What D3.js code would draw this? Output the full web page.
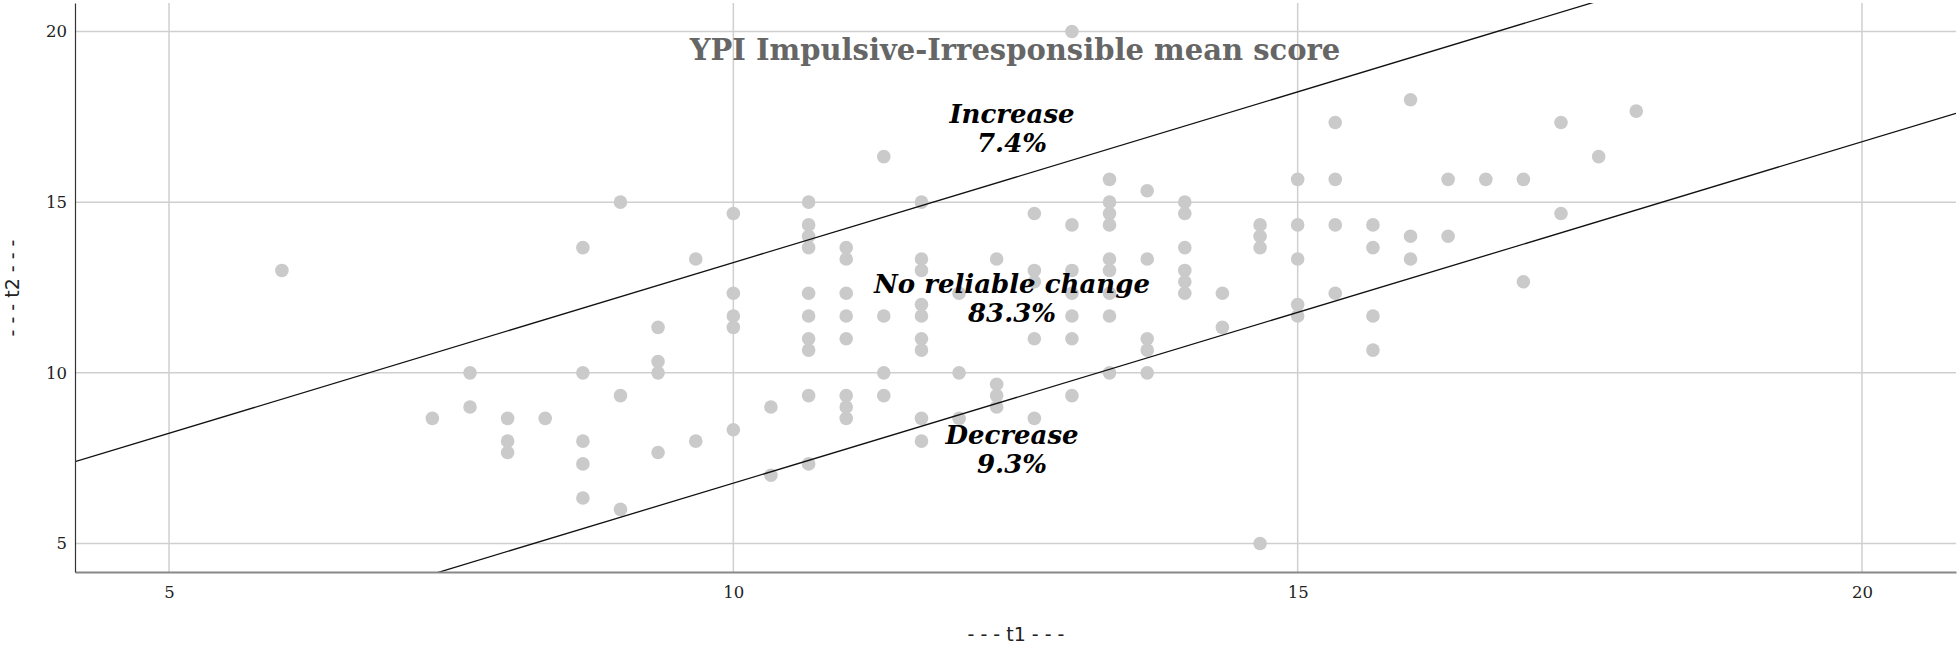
<!DOCTYPE html>
<html>
<head>
<meta charset="utf-8">
<script src="https://cdn.jsdelivr.net/npm/d3@7"></script>
<style>
  html, body { margin: 0; padding: 0; background: #fff; }
  svg { display: block; }
</style>
</head>
<body>
<svg id="chart" width="1960" height="648"></svg>
<script>
// ---- data ----
const title = "YPI Impulsive-Irresponsible mean score";
const xLabel = "- - - t1 - - -";
const yLabel = "- - - t2 - - -";
const xTicks = [5, 10, 15, 20];
const yTicks = [5, 10, 15, 20];
const rciOffset = 3.23;               // reliable change band: t2 = t1 ± offset
const regionNames = ["Increase", "No reliable change", "Decrease"];
const regionShares = ["7.4%", "83.3%", "9.3%"];

const t1 = [
  6, 7.333, 7.667, 7.667, 8, 8, 8, 8.333,
  8.667, 8.667, 8.667, 8.667, 8.667,
  9, 9, 9,
  9.333, 9.333, 9.333, 9.333,
  9.667, 9.667,
  10, 10, 10, 10, 10,
  10.333, 10.333,
  10.667, 10.667, 10.667, 10.667, 10.667, 10.667, 10.667, 10.667, 10.667, 10.667,
  11, 11, 11, 11, 11, 11, 11, 11,
  11.333, 11.333, 11.333, 11.333,
  11.667, 11.667, 11.667, 11.667, 11.667, 11.667, 11.667, 11.667, 11.667,
  12, 12, 12,
  12.333, 12.333, 12.333, 12.333,
  12.667, 12.667, 12.667, 12.667, 12.667,
  13, 13, 13, 13, 13, 13, 13,
  13.333, 13.333, 13.333, 13.333, 13.333, 13.333, 13.333, 13.333, 13.333,
  13.667, 13.667, 13.667, 13.667, 13.667,
  14, 14, 14, 14, 14, 14,
  14.333, 14.333,
  14.667, 14.667, 14.667, 14.667,
  15, 15, 15, 15, 15,
  15.333, 15.333, 15.333, 15.333,
  15.667, 15.667, 15.667, 15.667,
  16, 16, 16,
  16.333, 16.333,
  16.667,
  17, 17,
  17.333, 17.333,
  17.667,
  18
];
const t2 = [
  13, 8.667, 10, 9, 8.667, 8, 7.667, 8.667,
  13.667, 10, 8, 7.333, 6.333,
  15, 9.333, 6,
  11.333, 10.333, 10, 7.667,
  13.333, 8,
  14.667, 12.333, 11.667, 11.333, 8.333,
  9, 7,
  15, 14.333, 14, 13.667, 12.333, 11.667, 11, 10.667, 9.333, 7.333,
  13.667, 13.333, 12.333, 11.667, 11, 9.333, 9, 8.667,
  16.333, 11.667, 10, 9.333,
  15, 13.333, 13, 12, 11.667, 11, 10.667, 8.667, 8,
  12.333, 10, 8.667,
  13.333, 9.667, 9.333, 9,
  14.667, 13, 12.667, 11, 8.667,
  20, 14.333, 13, 12.333, 11.667, 11, 9.333,
  15.667, 15, 14.667, 14.333, 13.333, 13, 12.333, 11.667, 10,
  15.333, 13.333, 11, 10.667, 10,
  15, 14.667, 13.667, 13, 12.667, 12.333,
  12.333, 11.333,
  14.333, 14, 13.667, 5,
  15.667, 14.333, 13.333, 12, 11.667,
  17.333, 15.667, 14.333, 12.333,
  14.333, 13.667, 11.667, 10.667,
  18, 14, 13.333,
  15.667, 14,
  15.667,
  15.667, 12.667,
  17.333, 14.667,
  16.333,
  17.667
];

// ---- layout ----
const svg = d3.select("#chart");
const pLeft = 75, pRight = 1956, pTop = 3, pBottom = 572;
const x = d3.scaleLinear().domain([4.167, 20.833]).range([pLeft, pRight]);
const y = d3.scaleLinear().domain([4.167, 20.833]).range([pBottom, pTop]);
const serif = "'DejaVu Serif', 'Liberation Serif', serif";

svg.append("defs").append("clipPath").attr("id", "plotClip")
  .append("rect").attr("x", pLeft).attr("y", pTop)
  .attr("width", pRight - pLeft).attr("height", pBottom - pTop);

// gridlines
const grid = svg.append("g");
grid.selectAll("line.gx").data(xTicks).join("line").attr("class", "gx")
  .attr("x1", d => x(d)).attr("x2", d => x(d))
  .attr("y1", pTop).attr("y2", pBottom)
  .attr("stroke", "#cfcfcf").attr("stroke-width", 1.5);
grid.selectAll("line.gy").data(yTicks).join("line").attr("class", "gy")
  .attr("x1", pLeft).attr("x2", pRight)
  .attr("y1", d => y(d)).attr("y2", d => y(d))
  .attr("stroke", "#cfcfcf").attr("stroke-width", 1.5);

// points
const pts = t1.map((v, i) => ({ t1: v, t2: t2[i] }));
svg.append("g").attr("clip-path", "url(#plotClip)")
  .selectAll("circle").data(pts).join("circle")
  .attr("cx", d => x(d.t1)).attr("cy", d => y(d.t2))
  .attr("r", 6.8).attr("fill", "#cacaca");

// reliable-change lines
const dom = x.domain();
const bandLines = [rciOffset, -rciOffset];
svg.append("g").attr("clip-path", "url(#plotClip)")
  .selectAll("line").data(bandLines).join("line")
  .attr("x1", x(dom[0])).attr("y1", d => y(dom[0] + d))
  .attr("x2", x(dom[1])).attr("y2", d => y(dom[1] + d))
  .attr("stroke", "#111").attr("stroke-width", 1.3);

// axes
const xAxis = d3.axisBottom(x).tickValues(xTicks).tickSize(0).tickPadding(14);
const gx = svg.append("g").attr("transform", `translate(0,${pBottom})`).call(xAxis);
gx.select(".domain").attr("stroke", "#888").attr("stroke-width", 2);
gx.selectAll("text").attr("font-family", serif).attr("font-size", 16.5).attr("fill", "#222");

const yAxis = d3.axisLeft(y).tickValues(yTicks).tickSize(0).tickPadding(8);
const gy = svg.append("g").attr("transform", `translate(${pLeft},0)`).call(yAxis);
gy.select(".domain").attr("stroke", "#333").attr("stroke-width", 1.2);
gy.selectAll("text").attr("font-family", serif).attr("font-size", 16.5).attr("fill", "#222");

// title
svg.append("text").attr("x", 1015).attr("y", 60)
  .attr("text-anchor", "middle").attr("font-family", serif)
  .attr("font-weight", "bold").attr("font-size", 29).attr("fill", "#666")
  .text(title);

// region annotations
const annX = 1012;
const annY = [[123, 152], [293, 322], [444, 473]];
regionNames.forEach((name, i) => {
  const g = svg.append("g").attr("font-family", serif).attr("font-weight", "bold")
    .attr("font-style", "italic").attr("font-size", 26).attr("fill", "#000")
    .attr("text-anchor", "middle");
  g.append("text").attr("x", annX).attr("y", annY[i][0]).text(name);
  g.append("text").attr("x", annX).attr("y", annY[i][1]).text(regionShares[i]);
});

// axis titles
svg.append("text").attr("x", 1016).attr("y", 641)
  .attr("text-anchor", "middle").attr("font-family", "'DejaVu Sans', sans-serif")
  .attr("font-size", 19).attr("fill", "#222")
  .text(xLabel);
svg.append("text").attr("transform", "translate(19,288) rotate(-90)")
  .attr("text-anchor", "middle").attr("font-family", "'DejaVu Sans', sans-serif")
  .attr("font-size", 19).attr("fill", "#222")
  .text(yLabel);
</script>
</body>
</html>
